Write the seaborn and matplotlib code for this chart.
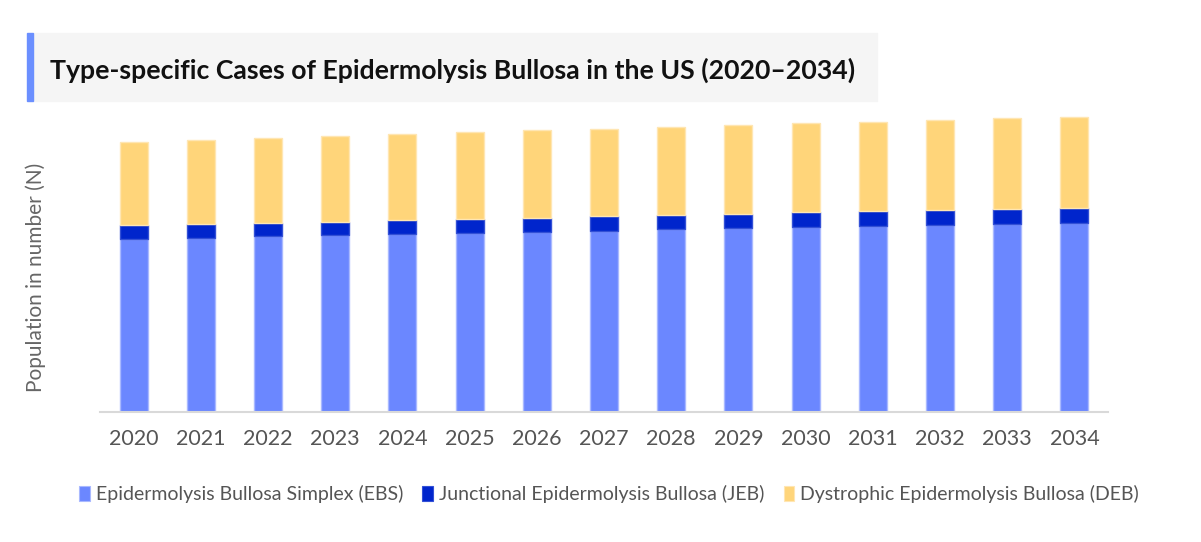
import numpy as np
import pandas as pd
import matplotlib
matplotlib.use("Agg")
import matplotlib.pyplot as plt
from matplotlib.patches import Rectangle, Patch
import seaborn as sns

# dados (unidades arbitrarias, sem escala no eixo y)
anos = [str(a) for a in range(2020, 2035)]
ebs = [173.0, 174.3, 175.7, 176.7, 178.0, 179.3, 180.3, 181.3, 182.7, 183.7, 185.0, 186.0, 187.3, 188.3, 189.3]
jeb = [13.7, 13.7, 13.6, 13.6, 13.7, 14.0, 14.0, 14.4, 14.3, 14.6, 14.7, 14.7, 14.7, 15.0, 15.0]
deb = [83.6, 84.3, 85.0, 85.7, 86.3, 86.7, 87.7, 87.6, 88.0, 88.7, 89.0, 89.6, 90.0, 90.4, 91.0]
nomes = ["Epidermolysis Bullosa Simplex (EBS)",
         "Junctional Epidermolysis Bullosa (JEB)",
         "Dystrophic Epidermolysis Bullosa (DEB)"]
cores = ["#6b87ff", "#0025cc", "#ffd57a"]
bordas = ["#a9b9ff", "#3350d6", "#ffe6b3"]

df = pd.DataFrame({"ano": anos, "EBS": ebs, "JEB": jeb, "DEB": deb})

sns.set_style("white")
plt.rcParams["font.family"] = ["Lato", "DejaVu Sans"]

fig = plt.figure(figsize=(12.01, 5.42), dpi=100)
ax = fig.add_axes([100 / 1201, 130 / 542, 1008 / 1201, 302 / 542])

base = np.zeros(len(anos))
for col, cor, borda in zip(["EBS", "JEB", "DEB"], cores, bordas):
    sns.barplot(data=df, x="ano", y=col, color=cor, saturation=1, width=0.415, bottom=base,
                edgecolor=borda, linewidth=1, ax=ax)
    base = base + df[col].values

ax.set_xlim(-0.5, 14.5)
ax.set_ylim(0, 302)
ax.set_yticks([])
ax.set_xlabel("")
ax.set_ylabel("")
ax.tick_params(axis="x", length=0, labelsize=15.5, labelcolor="#555555", pad=12)
for s in ["top", "right", "left"]:
    ax.spines[s].set_visible(False)
ax.spines["bottom"].set_color("#d9d9d9")
ax.spines["bottom"].set_linewidth(1.5)

fig.text(36 / 1201, 1 - 277 / 542, "Population in number (N)", rotation=90,
         fontsize=15, color="#666666", ha="center", va="center")

# caixa do titulo
fig.add_artist(Rectangle((33 / 1201, 1 - 101 / 542), 844 / 1201, 68 / 542,
                         transform=fig.transFigure, color="#f5f5f5", zorder=0))
fig.add_artist(Rectangle((27 / 1201, 1 - 101 / 542), 6 / 1201, 68 / 542,
                         transform=fig.transFigure, color="#6b8fff", zorder=1))
fig.text(50 / 1201, 1 - 70 / 542, "Type-specific Cases of Epidermolysis Bullosa in the US (2020–2034)",
         fontsize=19.2, fontweight="bold", color="#111111", va="center", ha="left")

handles = [Patch(facecolor=c, edgecolor=b, linewidth=0.8) for c, b in zip(cores, bordas)]
fig.legend(handles, nomes, loc="center", bbox_to_anchor=(609 / 1201, 1 - 494 / 542), ncol=3,
           frameon=False, fontsize=14, labelcolor="#555555", handlelength=0.55, handleheight=0.8,
           handletextpad=0.3, columnspacing=1.0)

fig.savefig("out.png", dpi=100)
